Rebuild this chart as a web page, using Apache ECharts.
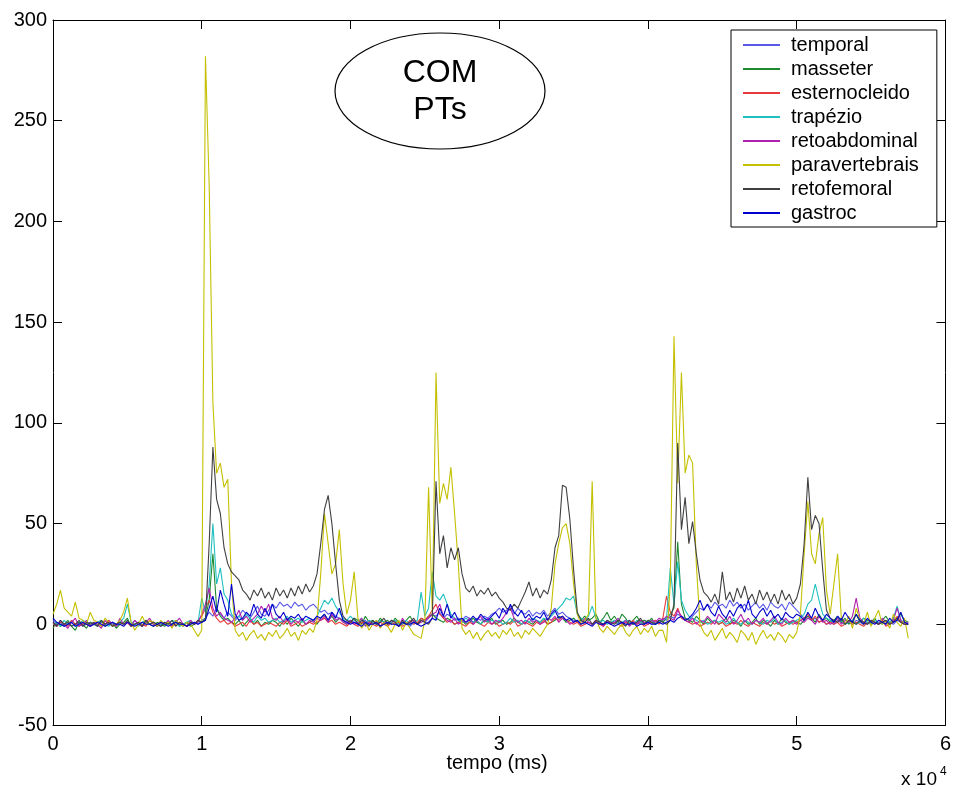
<!DOCTYPE html>
<html>
<head>
<meta charset="utf-8">
<script src="https://cdn.jsdelivr.net/npm/echarts@6/dist/echarts.min.js"></script>
<style>
html,body{margin:0;padding:0;background:#fff;}
#chart{width:954px;height:787px;}
</style>
</head>
<body>
<div id="chart"></div>
<script>
// Sampling step of the traces (ms); values below are read every step from the reference
const stepMs = 250;

const seriesNames = ['temporal','masseter','esternocleido','trapézio','retoabdominal','paravertebrais','retofemoral','gastroc'];
const xTickLabels = ['0','1','2','3','4','5','6'];
const yTicks = [-50,0,50,100,150,200,250,300];

const temporal = [
 2,0,1,-1,0,2,0,1,-1,0, 1,0,-1,1,0,2,0,-1,1,0, 1,0,2,0,-1,1,0,1,0,-1, 0,1,0,2,0,-1,1,0,1,0,
 2,3,6,4,8,5,3,6,4,2, 4,7,5,3,6,9,5,4,7,10, 8,11,9,10,8,11,9,10,7,9, 10,8,6,7,5,6,4,3,2,1,
 2,1,0,1,2,0,1,0,-1,1, 0,1,2,0,1,0,-1,1,0,2, 1,3,5,4,6,3,5,4,2,3, 2,4,3,1,3,2,4,3,5,6,
 8,6,7,9,5,8,6,5,7,4, 6,5,7,4,6,8,5,6,4,3, 2,1,2,0,1,0,2,1,0,1, 0,2,1,0,1,2,0,1,0,2,
 1,0,2,1,3,2,4,3,5,4, 3,2,4,6,8,7,10,8,11,9, 10,8,12,9,11,8,10,7,9,11, 8,10,7,11,9,8,10,7,11,9,
 7,5,3,4,2,3,1,2,0,1, 0,2,1,0,1,0,2,1,0,1, 0,1,0,2,0,1,0,2,1,0, 0];

const masseter = [
 -2,1,-1,0,2,-1,-3,1,0,-2, 1,0,-1,2,-1,0,1,-2,0,1, 3,-1,0,1,-1,2,0,-1,1,0, -1,1,0,2,-1,0,1,-1,0,2,
 1,3,12,35,8,4,2,3,1,0, 2,-1,1,3,0,2,-1,1,0,2, 1,-1,2,0,3,1,-1,2,0,1, 2,0,3,5,2,4,1,3,2,0,
 1,3,2,0,4,1,2,0,3,1, 2,0,3,1,0,2,4,1,0,3, 2,4,5,3,2,1,3,2,0,1, 2,0,1,3,1,0,2,1,3,0,
 1,2,0,1,3,1,0,2,1,0, 2,1,3,0,1,2,4,3,1,2, 3,1,2,4,2,3,5,1,3,6, 2,4,1,5,3,0,2,4,1,2,
 1,3,0,2,1,3,5,8,41,10, 3,2,1,4,2,0,3,1,2,0, 1,3,0,2,1,-1,2,0,1,3, 0,2,1,-1,2,0,3,1,0,2,
 1,0,2,4,3,1,5,2,3,1, 2,4,1,3,0,2,5,1,3,2, 1,3,0,2,4,1,2,3,5,2, 1];

const esternocleido = [
 0,-1,1,0,-1,2,0,-1,1,0, -1,0,1,-1,0,2,-1,0,1,0, 1,-1,0,1,0,-1,2,0,-1,1, 0,1,-1,0,1,0,-1,1,0,2,
 4,8,12,6,3,1,2,0,1,-1, 0,1,-1,2,0,1,-1,0,1,0, -1,1,0,2,-1,0,1,-1,0,1, 0,1,2,3,1,2,0,1,0,-1,
 1,0,-1,1,0,2,0,-1,1,0, -1,1,0,1,-1,0,2,0,1,3, 2,4,7,10,5,3,1,2,0,1, 0,-1,1,0,2,0,-1,1,0,1,
 -1,0,1,0,2,-1,0,1,0,-1, 1,0,2,0,1,3,2,4,2,1, 0,1,-1,0,1,0,2,0,-1,1, 0,1,0,-1,1,0,2,0,1,-1,
 0,1,2,0,3,14,6,4,8,3, 2,1,0,1,-1,0,1,0,2,0, 1,-1,0,1,0,2,0,-1,1,0, -1,1,0,2,0,1,-1,0,1,0,
 1,2,3,5,2,4,1,2,0,1, 0,1,-1,0,2,0,1,0,-1,1, 0,1,0,2,-1,0,1,4,1,0, 0];

const trapezio = [
 0,1,-1,2,0,1,-1,0,2,1, -1,0,1,2,0,-1,1,0,1,3, 10,1,0,-1,1,2,0,1,-1,0, 1,0,2,1,-1,0,1,2,0,1,
 13,6,20,50,20,28,15,12,5,3, 4,2,5,3,1,4,2,3,1,2, 3,1,2,4,1,2,3,1,2,3, 2,4,8,12,10,13,9,6,3,2,
 4,2,1,3,0,2,1,0,2,1, 0,1,2,0,1,2,0,1,2,16, 4,8,26,14,12,15,10,5,3,2, 1,3,2,1,2,0,3,1,2,1,
 2,0,1,3,1,2,0,2,1,3, 2,1,3,2,4,6,8,10,13,12, 14,5,3,2,4,9,3,1,2,0, 1,2,0,1,2,1,0,2,1,0,
 1,2,0,1,2,3,28,10,31,12, 7,4,3,2,1,2,0,1,2,1, 2,0,1,3,1,0,2,1,0,2, 1,0,2,1,3,0,1,2,0,1,
 2,3,5,10,12,20,12,5,3,2, 1,3,2,0,1,2,0,1,3,1, 0,2,1,0,2,1,3,9,2,1, 0];

const retoabdominal = [
 1,-1,2,0,-2,1,3,-1,0,2, -1,1,0,-2,2,0,1,-1,3,0, 1,-1,2,0,-1,1,3,0,-1,1, 0,2,-1,1,3,0,-1,2,0,1,
 5,10,18,8,4,6,3,2,1,3, 7,2,4,1,3,5,9,6,10,3, 2,4,1,3,0,2,1,3,0,2, 1,3,2,4,1,5,2,3,1,0,
 2,0,1,3,-1,1,0,2,-1,1, 0,2,1,-1,3,0,1,2,0,1, 2,3,5,6,10,4,2,1,3,0, 2,1,3,0,2,4,1,3,0,2,
 1,3,6,8,3,1,2,0,3,1, 2,0,1,3,2,4,1,3,2,0, 1,2,0,3,1,0,2,1,-1,2, 0,1,3,0,2,-1,1,0,2,1,
 0,2,1,3,2,4,3,2,7,4, 2,1,3,0,2,1,4,2,0,5, 3,1,4,0,2,5,1,3,0,2, 1,3,0,2,4,1,0,3,1,2,
 0,2,1,3,2,0,4,1,2,0, 1,3,0,2,1,4,13,3,1,0, 2,1,0,3,1,0,2,8,2,0, 1];

const paravertebrais = [
 5,10,17,8,6,4,11,3,2,0, 6,2,1,-1,3,1,-1,0,2,6, 13,1,-3,0,4,0,2,1,-1,2, 0,1,-2,2,0,-1,1,0,-3,-6,
 -3,282,218,110,75,80,68,72,20,-3, -6,-4,-8,-5,-3,-7,-5,-8,-4,-6, -3,-7,-5,-2,-6,-4,-8,-3,-5,-2, -4,2,25,55,40,25,30,47,20,5,
 12,26,3,-2,1,-3,0,2,-2,1, -1,-4,0,2,-3,1,-2,-5,-6,-7, 2,68,5,125,60,70,62,78,55,30, -2,-5,-3,-7,-4,-8,-5,-3,-6,-4,
 -7,-3,-5,-2,-6,-4,-7,-3,-5,-2, -4,-6,-3,0,8,30,40,48,50,40, 20,5,0,2,5,71,3,-2,-4,-1, -3,-5,-2,0,-4,-6,-3,-1,-5,-2,
 -4,-1,-6,-3,-3,-9,20,143,70,125, 75,84,80,30,0,-4,-6,-3,-8,-5, -2,-7,-4,-6,-9,-3,-5,-8,-4,-10, -6,-3,-7,-5,-8,-4,-6,-9,-5,-7,
 -4,5,35,61,35,30,45,53,17,5, 20,35,3,0,4,-2,8,2,0,6, -1,3,7,0,2,-2,5,1,-1,3, -7];

const retofemoral = [
 1,-1,2,0,1,-1,0,2,-1,1, 0,1,-1,2,0,1,-1,0,1,0, 2,-1,0,1,-1,2,0,1,0,-1, 1,0,2,-1,1,0,-1,1,0,2,
 1,2,40,88,62,55,38,30,26,24, 22,17,15,12,17,14,18,13,16,12, 18,14,17,13,18,14,19,15,20,16, 19,25,40,57,64,50,30,12,4,2,
 1,3,0,2,1,-1,2,0,1,3, 0,2,1,-1,2,0,1,3,0,2, 1,0,3,71,35,44,28,38,32,38, 25,18,16,19,14,17,15,18,14,16,
 13,11,8,7,10,8,12,16,21,14, 18,13,17,15,22,38,44,69,68,52, 27,6,2,1,3,0,2,1,0,2, 1,0,2,1,-1,2,0,1,3,0,
 2,1,0,2,1,0,2,10,90,47, 63,40,51,35,22,16,14,11,15,10, 26,12,16,11,18,13,19,12,15,10, 17,12,16,11,15,10,17,12,15,10,
 13,20,40,73,47,54,50,27,7,3, 2,1,3,0,2,1,0,2,1,0, 2,1,0,1,2,0,1,3,1,0, 0];

const gastroc = [
 3,1,0,-1,0,1,-1,0,1,0, -1,0,1,0,-1,0,1,0,0,-1, 1,0,-1,0,1,0,0,-1,0,1, 0,-1,0,1,0,0,-1,0,1,0,
 1,2,8,14,6,17,10,4,20,5, 2,3,6,4,10,5,3,8,4,10, 5,3,6,2,4,3,5,2,4,3, 2,4,3,5,2,6,3,8,2,1,
 0,1,0,-1,1,0,0,1,-1,0, 1,0,0,-1,1,0,0,1,0,-1, 0,1,3,2,8,4,10,3,6,2, 3,1,2,4,2,5,3,2,4,6,
 3,8,5,10,6,4,7,3,5,2, 4,3,6,2,5,7,3,4,2,3, 1,2,0,1,0,-1,1,0,0,1, 0,-1,0,1,0,0,1,-1,0,0,
 1,0,0,1,0,1,2,1,3,4, 2,3,5,8,12,7,10,6,4,9, 5,3,7,4,8,10,6,12,5,3, 6,8,4,7,3,5,2,6,4,3,
 5,4,2,6,3,8,4,2,5,3, 1,4,2,6,3,1,5,2,0,3, 1,0,2,1,0,3,1,2,6,1, 0];

const seriesValues = [temporal, masseter, esternocleido, trapezio, retoabdominal, paravertebrais, retofemoral, gastroc];
const seriesColors = ['#5a5ae8','#1e8a30','#e83a3a','#20c0c0','#b020b0','#c4c000','#404040','#0000cc'];

const chart = echarts.init(document.getElementById('chart'), null, {renderer:'canvas'});
const FONT = 'Liberation Sans, Arial, Helvetica, sans-serif';

const series = seriesNames.map((name, k) => ({
  name: name,
  type: 'line',
  xAxisIndex: 0,
  yAxisIndex: 0,
  symbol: 'none',
  showSymbol: false,
  smooth: false,
  clip: true,
  lineStyle: {width: 1.1, color: seriesColors[k]},
  itemStyle: {color: seriesColors[k]},
  emphasis: {disabled: true},
  data: seriesValues[k].map((v, i) => [i * stepMs, v])
}));

const axisLineStyle = {show: true, onZero: false, lineStyle: {color: '#000', width: 1}};
const tickStyle = {show: true, inside: true, length: 9, lineStyle: {color: '#000', width: 1}};

const option = {
  animation: false,
  backgroundColor: '#fff',
  grid: {left: 53, top: 20, right: 7, bottom: 62, containLabel: false},
  xAxis: [
    {type: 'value', position: 'bottom', min: 0, max: 60000, interval: 10000,
     axisLine: axisLineStyle, axisTick: tickStyle, splitLine: {show: false},
     axisLabel: {fontSize: 20, color: '#000', fontFamily: FONT, margin: 9,
       formatter: v => xTickLabels[Math.round(v / 10000)]}},
    {type: 'value', position: 'top', min: 0, max: 60000, interval: 10000,
     axisLine: axisLineStyle, axisTick: tickStyle, splitLine: {show: false},
     axisLabel: {show: false}}
  ],
  yAxis: [
    {type: 'value', position: 'left', min: yTicks[0], max: yTicks[yTicks.length-1], interval: 50,
     axisLine: axisLineStyle, axisTick: tickStyle, splitLine: {show: false},
     axisLabel: {fontSize: 20, color: '#000', fontFamily: FONT, margin: 6}},
    {type: 'value', position: 'right', min: yTicks[0], max: yTicks[yTicks.length-1], interval: 50,
     axisLine: axisLineStyle, axisTick: tickStyle, splitLine: {show: false},
     axisLabel: {show: false}}
  ],
  legend: {
    show: true,
    orient: 'vertical',
    left: 731,
    top: 30,
    padding: [3, 18, 2, 12],
    icon: 'rect',
    itemWidth: 37,
    itemHeight: 2,
    itemGap: 0,
    selectedMode: false,
    backgroundColor: '#fff',
    borderColor: '#000',
    borderWidth: 1,
    textStyle: {fontSize: 20, fontFamily: FONT, color: '#000', lineHeight: 24, padding: [0, 0, 0, 6]},
    data: seriesNames.map(n => ({name: n}))
  },
  graphic: [
    {type: 'ellipse', shape: {cx: 440, cy: 91, rx: 105, ry: 58},
     style: {fill: '#fff', stroke: '#000', lineWidth: 1.2}, z: 100},
    {type: 'text', x: 440, y: 73, z: 101,
     style: {text: 'COM', fontSize: 32, fontFamily: FONT, fill: '#000', align: 'center', verticalAlign: 'middle'}},
    {type: 'text', x: 440, y: 110, z: 101,
     style: {text: 'PTs', fontSize: 32, fontFamily: FONT, fill: '#000', align: 'center', verticalAlign: 'middle'}},
    {type: 'text', x: 497, y: 763, z: 101,
     style: {text: 'tempo (ms)', fontSize: 20, fontFamily: FONT, fill: '#000', align: 'center', verticalAlign: 'middle'}},
    {type: 'text', x: 937, y: 780, z: 101,
     style: {text: 'x 10', fontSize: 19, fontFamily: FONT, fill: '#000', align: 'right', verticalAlign: 'middle'}},
    {type: 'text', x: 940, y: 772, z: 101,
     style: {text: '4', fontSize: 12, fontFamily: FONT, fill: '#000', align: 'left', verticalAlign: 'middle'}}
  ],
  series: series
};
chart.setOption(option);
</script>
</body>
</html>
